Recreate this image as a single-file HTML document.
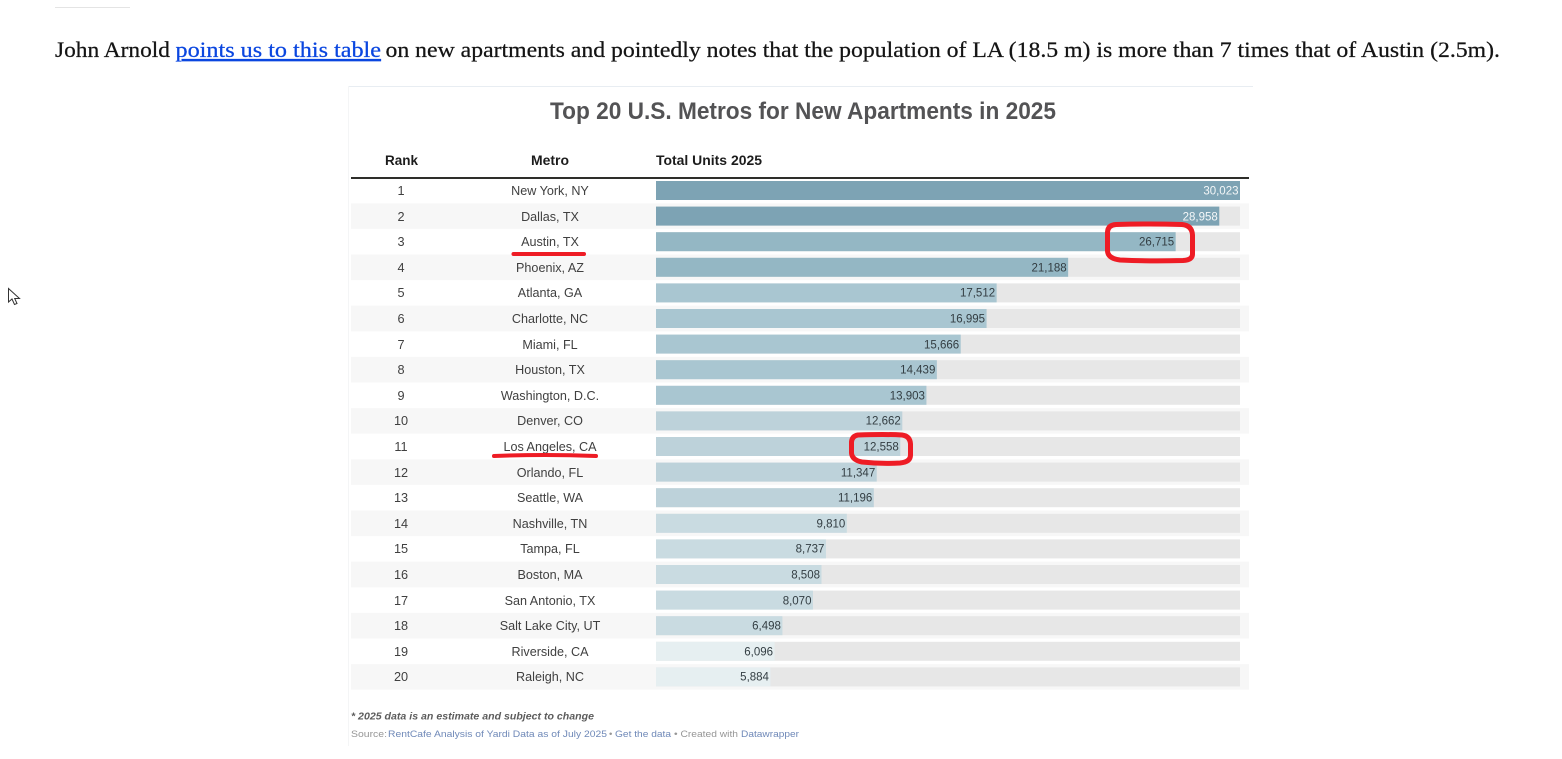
<!DOCTYPE html>
<html lang="en">
<head>
<meta charset="utf-8">
<title>Top 20 U.S. Metros for New Apartments in 2025</title>
<style>
  html, body { margin: 0; padding: 0; background: #fff; }
  body { width: 1562px; height: 759px; overflow: hidden; }
  svg { display: block; }
  text { font-family: "Liberation Sans", sans-serif; }
  .serif { font-family: "Liberation Serif", serif; font-size: 22px; fill: #141414; stroke: #141414; stroke-width: 0.25px; }
  .link { fill: #0a46e0; stroke: #0a46e0; text-decoration: underline; cursor: pointer; }
</style>
</head>
<body>
<svg id="page" width="1562" height="759" viewBox="0 0 1562 759" xmlns="http://www.w3.org/2000/svg">
  <defs>
    <filter id="soft" x="0" y="0" width="100%" height="100%">
      <feGaussianBlur stdDeviation="0.35"/>
    </filter>
  </defs>
  <rect x="55" y="7" width="75" height="1" fill="#e4e4e4"/>
  <text class="serif" x="55" y="57" textLength="115" lengthAdjust="spacingAndGlyphs">John Arnold</text>
  <text class="serif link" x="175.500" y="57" textLength="205.500" lengthAdjust="spacingAndGlyphs">points us to this table</text>
  <text class="serif" x="385.500" y="57" textLength="1114.500" lengthAdjust="spacingAndGlyphs">on new apartments and pointedly notes that the population of LA (18.5 m) is more than 7 times that of Austin (2.5m).</text>

  <g>
    <path d="M8.500 288.500 V302 L12 299 L14.500 304.500 L17 303.500 L14.700 298.500 L19.500 298.500 Z" fill="#fff" stroke="#333" stroke-width="1"/>
  </g>

  <g id="chart" filter="url(#soft)">
    <rect x="349" y="86" width="904" height="1" fill="#e8edf2"/>
    <rect x="348" y="86" width="1" height="660" fill="#f4f5f6"/>
    <text x="550" y="119" font-size="24" font-weight="700" fill="#535355" textLength="506" lengthAdjust="spacingAndGlyphs">Top 20 U.S. Metros for New Apartments in 2025</text>
    <text x="385" y="165" font-size="13.500" font-weight="700" fill="#1e1e1e" textLength="33" lengthAdjust="spacingAndGlyphs">Rank</text>
    <text x="531" y="165" font-size="13.500" font-weight="700" fill="#1e1e1e" textLength="38" lengthAdjust="spacingAndGlyphs">Metro</text>
    <text x="656" y="165" font-size="13.500" font-weight="700" fill="#1e1e1e" textLength="106" lengthAdjust="spacingAndGlyphs">Total Units 2025</text>
    <rect x="351" y="177" width="898" height="2" fill="#2e2e2a"/>
    <g id="rows"></g>
    <text x="351" y="719.500" font-size="10.500" font-weight="700" font-style="italic" fill="#5c5c5c" textLength="243" lengthAdjust="spacingAndGlyphs">* 2025 data is an estimate and subject to change</text>
    <g font-size="9.500">
      <text x="351" y="737" fill="#969696" textLength="36" lengthAdjust="spacingAndGlyphs">Source:</text>
      <text x="388" y="737" fill="#6f89b8" textLength="219" lengthAdjust="spacingAndGlyphs">RentCafe Analysis of Yardi Data as of July 2025</text>
      <text x="609" y="737" fill="#969696">•</text>
      <text x="615" y="737" fill="#6f89b8" textLength="56" lengthAdjust="spacingAndGlyphs">Get the data</text>
      <text x="674" y="737" fill="#969696" textLength="64" lengthAdjust="spacingAndGlyphs">• Created with</text>
      <text x="741" y="737" fill="#6f89b8" textLength="58" lengthAdjust="spacingAndGlyphs">Datawrapper</text>
    </g>
  </g>

  <g fill="none" stroke="#ee1c25" stroke-linecap="round" stroke-linejoin="round">
    <path d="M513.500 254 H584" stroke-width="4"/>
    <path d="M494 456 Q545 454 596 456" stroke-width="4"/>
    <path d="M1116 224.500 Q1150 223.500 1182 224.500 Q1192 225.500 1192.500 235 L1192.500 254 Q1192.500 260 1183 260.500 Q1150 261.500 1120 260 Q1108 258.500 1107.500 251 L1107.500 232 Q1108 225 1116 224.500 Z" stroke-width="5"/>
    <path d="M858 435 Q885 434 902 435 Q910 436 910.500 444 L910.500 455 Q910.500 462 900 463 Q880 464 862 462 Q852 460 851.500 453 L851.500 442 Q852 436 858 435 Z" stroke-width="5"/>
  </g>
</svg>

<script>
const metros = ["New York, NY","Dallas, TX","Austin, TX","Phoenix, AZ","Atlanta, GA","Charlotte, NC","Miami, FL","Houston, TX","Washington, D.C.","Denver, CO","Los Angeles, CA","Orlando, FL","Seattle, WA","Nashville, TN","Tampa, FL","Boston, MA","San Antonio, TX","Salt Lake City, UT","Riverside, CA","Raleigh, NC"];
const units = [30023,28958,26715,21188,17512,16995,15666,14439,13903,12662,12558,11347,11196,9810,8737,8508,8070,6498,6096,5884];

const NS = "http://www.w3.org/2000/svg";
const rowsGroup = document.getElementById("rows");
const maxUnits = Math.max.apply(null, units);

function xScale(value) { return value / maxUnits * 584; }
function rowCenter(index) { return 190.5 + index * 25.6; }
function barColor(value) {
  if (value >= 28000) return "#7da3b4";
  if (value >= 20000) return "#94b7c4";
  if (value >= 13500) return "#a9c6d1";
  if (value >= 11000) return "#bdd2da";
  if (value >= 6300) return "#c9dbe1";
  return "#e6eff1";
}
function make(tag, parent, props) {
  const el = document.createElementNS(NS, tag);
  Object.keys(props).forEach(function (k) { el.setAttribute(k, props[k]); });
  parent.appendChild(el);
  return el;
}

metros.forEach(function (metro, i) {
  const value = units[i];
  const cy = rowCenter(i);
  const baseline = Math.round(cy + 4.5);
  const slug = metro.toLowerCase().replace(/[^a-z]+/g, "-").replace(/-$/, "");

  const row = make("g", rowsGroup, {});
  
  

  if (i % 2 === 1) {
    const band = make("rect", row, { x: 351, y: cy - 12.8, width: 898, height: 25.6, fill: "#f7f7f7" });
    
    
  }

  const rank = make("text", row, { x: 401, y: baseline, "text-anchor": "middle", "font-size": 12.7, fill: "#3f3f3f" });
  rank.textContent = String(i + 1);
  
  

  const name = make("text", row, { x: 550, y: baseline, "text-anchor": "middle", "font-size": 12.6, fill: "#3f3f3f" });
  name.textContent = metro;
  
  

  const track = make("rect", row, { x: 656, y: cy - 9.5, width: 584, height: 19, fill: "#e7e7e7" });
  
  

  const bar = make("rect", row, { x: 656, y: cy - 9.5, width: xScale(value), height: 19, fill: barColor(value) });
  
  

  const label = make("text", row, { x: 656 + xScale(value) - 1.5, y: baseline - 0.5, "text-anchor": "end", "font-size": 11.5, fill: value >= 28000 ? "#f4f7f8" : "#333d42" });
  label.textContent = value.toLocaleString("en-US");
  
  
});
</script>
</body>
</html>
